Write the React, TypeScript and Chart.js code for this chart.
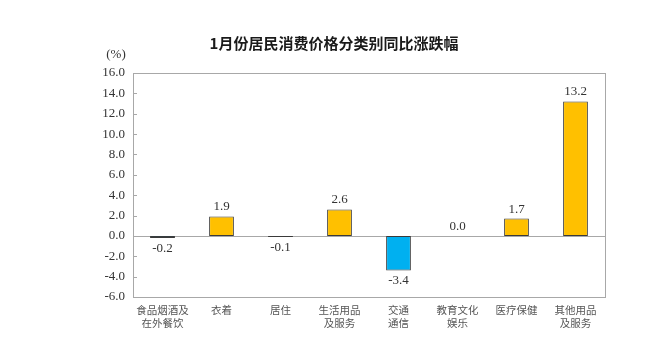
import React, { useEffect, useRef } from "react";
import { Chart, registerables } from "chart.js";

Chart.register(...registerables);

const categories: string[][] = [
  ["食品烟酒及", "在外餐饮"],
  ["衣着"],
  ["居住"],
  ["生活用品", "及服务"],
  ["交通", "通信"],
  ["教育文化", "娱乐"],
  ["医疗保健"],
  ["其他用品", "及服务"],
];
const values: number[] = [-0.2, 1.9, -0.1, 2.6, -3.4, 0.0, 1.7, 13.2];
const yMin = -6;
const yMax = 16;
const yStep = 2;
const title = "1月份居民消费价格分类别同比涨跌幅";
const unitLabel = "(%)";

const POS_COLOR = "#FFC000";
const NEG_COLOR = "#00B0F0";
const SERIF = "'Liberation Serif', 'Times New Roman', 'Noto Sans CJK SC', serif";
const SANS = "'Noto Sans CJK SC', 'Noto Sans', sans-serif";

const decorPlugin = {
  id: "decor",
  beforeDatasetsDraw(chart: any) {
    const { ctx, chartArea } = chart;
    const y = chart.scales.y;
    ctx.save();
    ctx.strokeStyle = "#a8a8a8";
    ctx.lineWidth = 1;
    ctx.strokeRect(
      Math.round(chartArea.left) + 0.5,
      Math.round(chartArea.top) + 0.5,
      Math.round(chartArea.right - chartArea.left),
      Math.round(chartArea.bottom - chartArea.top)
    );
    const y0 = Math.round(y.getPixelForValue(0)) + 0.5;
    ctx.beginPath();
    ctx.moveTo(chartArea.left, y0);
    ctx.lineTo(chartArea.right, y0);
    ctx.stroke();
    for (let v = yMin; v <= yMax; v += yStep) {
      const py = Math.round(y.getPixelForValue(v)) + 0.5;
      ctx.beginPath();
      ctx.moveTo(chartArea.left, py);
      ctx.lineTo(chartArea.left + 4, py);
      ctx.stroke();
    }
    ctx.restore();
  },
  afterDraw(chart: any) {
    const { ctx } = chart;
    ctx.save();
    ctx.fillStyle = "#1a1a1a";
    ctx.font = `bold 15px ${SANS}`;
    ctx.textAlign = "center";
    ctx.textBaseline = "middle";
    ctx.fillText(title, 334, 43);
    ctx.font = `13px ${SERIF}`;
    ctx.fillStyle = "#333";
    ctx.fillText(unitLabel, 116, 55);
    const meta = chart.getDatasetMeta(0);
    ctx.font = `13px ${SERIF}`;
    ctx.fillStyle = "#333";
    meta.data.forEach((bar: any, i: number) => {
      const v = values[i];
      if (v >= 0) {
        ctx.textBaseline = "bottom";
        ctx.fillText(v.toFixed(1), bar.x, bar.y - 3);
      } else {
        ctx.textBaseline = "top";
        ctx.fillText(v.toFixed(1), bar.x, bar.y + 4);
      }
    });
    ctx.restore();
  },
};

export default function App() {
  const ref = useRef<HTMLCanvasElement>(null);
  useEffect(() => {
    if (!ref.current) return;
    const chart = new Chart(ref.current, {
      type: "bar",
      data: {
        labels: categories,
        datasets: [
          {
            data: values,
            backgroundColor: values.map((v) => (v >= 0 ? POS_COLOR : NEG_COLOR)),
            borderColor: "#3a3a3a",
            borderWidth: 1,
            borderSkipped: false,
            categoryPercentage: 1,
            barPercentage: 0.42,
          },
        ],
      },
      options: {
        responsive: false,
        animation: false,
        events: [],
        layout: { padding: { top: 73, right: 53, left: 0, bottom: 0 } },
        plugins: {
          legend: { display: false },
          title: { display: false },
          tooltip: { enabled: false },
        },
        scales: {
          x: {
            grid: { display: false, drawTicks: false },
            border: { display: false },
            ticks: {
              color: "#555",
              font: { family: SERIF, size: 10.5, lineHeight: 1.25 },
              padding: 8,
              maxRotation: 0,
              autoSkip: false,
            },
            afterFit(scale: any) {
              scale.height = 54;
            },
          },
          y: {
            min: yMin,
            max: yMax,
            grid: { display: false, drawTicks: false },
            border: { display: false },
            ticks: {
              stepSize: yStep,
              color: "#333",
              font: { family: SERIF, size: 13 },
              padding: 8,
              callback: (v: any) => Number(v).toFixed(1),
            },
            afterFit(scale: any) {
              scale.width = 133;
            },
          },
        },
      },
      plugins: [decorPlugin],
    });
    return () => chart.destroy();
  }, []);
  return (
    <div style={{ position: "absolute", left: 0, top: 0, width: 658, height: 351, background: "#fff" }}>
      <canvas ref={ref} width={658} height={351} style={{ display: "block" }} />
    </div>
  );
}
